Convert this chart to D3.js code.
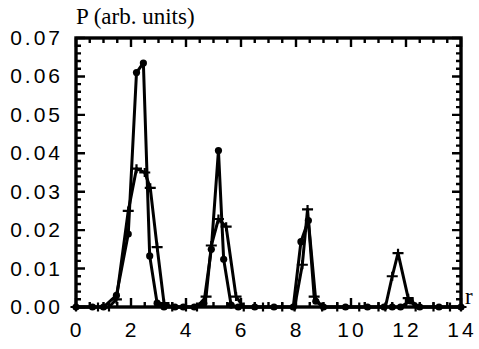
<!DOCTYPE html>
<html>
<head>
<meta charset="utf-8">
<script src="https://cdn.jsdelivr.net/npm/d3@7"></script>
<style>
  body { margin: 0; background: #fff; }
  svg { display: block; }
</style>
</head>
<body>
<div id="chart"></div>
<script>
// Data
// series with filled circles
const rDots = [0, 0.6, 1.0, 1.47, 1.9, 2.2, 2.45, 2.68, 2.95, 3.2, 3.6, 3.9, 4.3, 4.65, 4.92, 5.18, 5.37, 5.64, 5.9, 6.5, 7.2, 7.9, 8.18, 8.45, 8.72, 9.0, 9.8, 10.6, 11.2, 11.5, 11.8, 12.16, 12.5, 13.2, 14];
const pDots = [0, 0, 0, 0.003, 0.019, 0.061, 0.0635, 0.0133, 0.001, 0, 0, 0, 0, 0.001, 0.015, 0.0407, 0.0124, 0.0005, 0, 0, 0, 0, 0.017, 0.0225, 0.0015, 0, 0, 0, 0, 0, 0, 0.0016, 0, 0, 0];
// series with plus markers
const rPlus = [0, 0.8, 1.2, 1.47, 1.9, 2.2, 2.5, 2.7, 2.95, 3.2, 3.5, 4.0, 4.4, 4.73, 4.92, 5.18, 5.46, 5.82, 6.1, 6.8, 7.5, 7.95, 8.23, 8.42, 8.66, 8.95, 9.5, 10.3, 11.0, 11.25, 11.5, 11.71, 12.08, 12.35, 13.0, 13.6, 14];
const pPlus = [0, 0, 0, 0.002, 0.025, 0.036, 0.035, 0.031, 0.0156, 0.001, 0, 0, 0, 0.0027, 0.016, 0.0229, 0.0209, 0.0027, 0, 0, 0, 0, 0.011, 0.0254, 0.0027, 0, 0, 0, 0, 0, 0.008, 0.014, 0.0023, 0, 0, 0, 0];

const xTicks = [0, 2, 4, 6, 8, 10, 12, 14];
const yTicks = [0, 0.01, 0.02, 0.03, 0.04, 0.05, 0.06, 0.07];

const W = 479, H = 349;
const margin = {top: 38, right: 16, bottom: 42, left: 76};

const svg = d3.select("#chart").append("svg")
  .attr("width", W).attr("height", H);

const x = d3.scaleLinear().domain([0, 14]).range([margin.left, W - margin.right - 2]);
const y = d3.scaleLinear().domain([0, 0.07]).range([H - margin.bottom, margin.top]);

const xl = x(0), xr = x(14), yb = y(0), yt = y(0.07);

// frame
svg.append("rect")
  .attr("x", xl).attr("y", yt)
  .attr("width", xr - xl).attr("height", yb - yt)
  .attr("fill", "none").attr("stroke", "#000").attr("stroke-width", 3.4);

// inward ticks on all four sides, built as one path
const tickPath = d3.path();
d3.range(0, 29).forEach(i => {
  const px = x(i * 0.5);
  const len = (i % 4 === 0) ? 9 : 5;
  tickPath.moveTo(px, yb); tickPath.lineTo(px, yb - len);
  tickPath.moveTo(px, yt); tickPath.lineTo(px, yt + len);
});
d3.range(0, 36).forEach(i => {
  const py = y(i * 0.002);
  const len = (i % 5 === 0) ? 9 : 5;
  tickPath.moveTo(xl, py); tickPath.lineTo(xl + len, py);
  tickPath.moveTo(xr, py); tickPath.lineTo(xr - len, py);
});
svg.append("path").attr("d", tickPath.toString())
  .attr("fill", "none").attr("stroke", "#000").attr("stroke-width", 2.4);

// tick labels
svg.append("g").selectAll("text").data(xTicks).enter().append("text")
  .attr("x", d => x(d) + 1).attr("y", yb + 30)
  .attr("text-anchor", "middle")
  .attr("font-family", "Liberation Sans, Arial, sans-serif")
  .attr("font-size", 21).attr("letter-spacing", 3)
  .text(d => d);

svg.append("g").selectAll("text").data(yTicks).enter().append("text")
  .attr("x", xl - 13).attr("y", d => y(d) + 7)
  .attr("text-anchor", "end")
  .attr("font-family", "Liberation Sans, Arial, sans-serif")
  .attr("font-size", 21).attr("letter-spacing", 3)
  .text(d => d.toFixed(2));

// axis titles
svg.append("text")
  .attr("x", xl).attr("y", 24)
  .attr("font-family", "Liberation Serif, Times New Roman, serif")
  .attr("font-size", 23)
  .text("P (arb. units)");
svg.append("text")
  .attr("x", xr + 4).attr("y", yb - 3)
  .attr("font-family", "Liberation Serif, Times New Roman, serif")
  .attr("font-size", 23)
  .text("r");

// lines
const line = d3.line().x(d => x(d[0])).y(d => y(d[1]));
const dots = rDots.map((r, i) => [r, pDots[i]]);
const plus = rPlus.map((r, i) => [r, pPlus[i]]);

[plus, dots].forEach(s => {
  svg.append("path").datum(s).attr("d", line)
    .attr("fill", "none").attr("stroke", "#000").attr("stroke-width", 3)
    .attr("stroke-linejoin", "round");
});

// markers
svg.append("g").selectAll("circle").data(dots).enter().append("circle")
  .attr("cx", d => x(d[0])).attr("cy", d => y(d[1])).attr("r", 3.6)
  .attr("fill", "#000");

const plusPath = d3.path();
plus.forEach(d => {
  const cx = x(d[0]), cy = y(d[1]);
  plusPath.moveTo(cx - 5.5, cy); plusPath.lineTo(cx + 5.5, cy);
  plusPath.moveTo(cx, cy - 4.5); plusPath.lineTo(cx, cy + 4.5);
});
svg.append("path").attr("d", plusPath.toString())
  .attr("fill", "none").attr("stroke", "#000").attr("stroke-width", 2.2);
</script>
</body>
</html>
